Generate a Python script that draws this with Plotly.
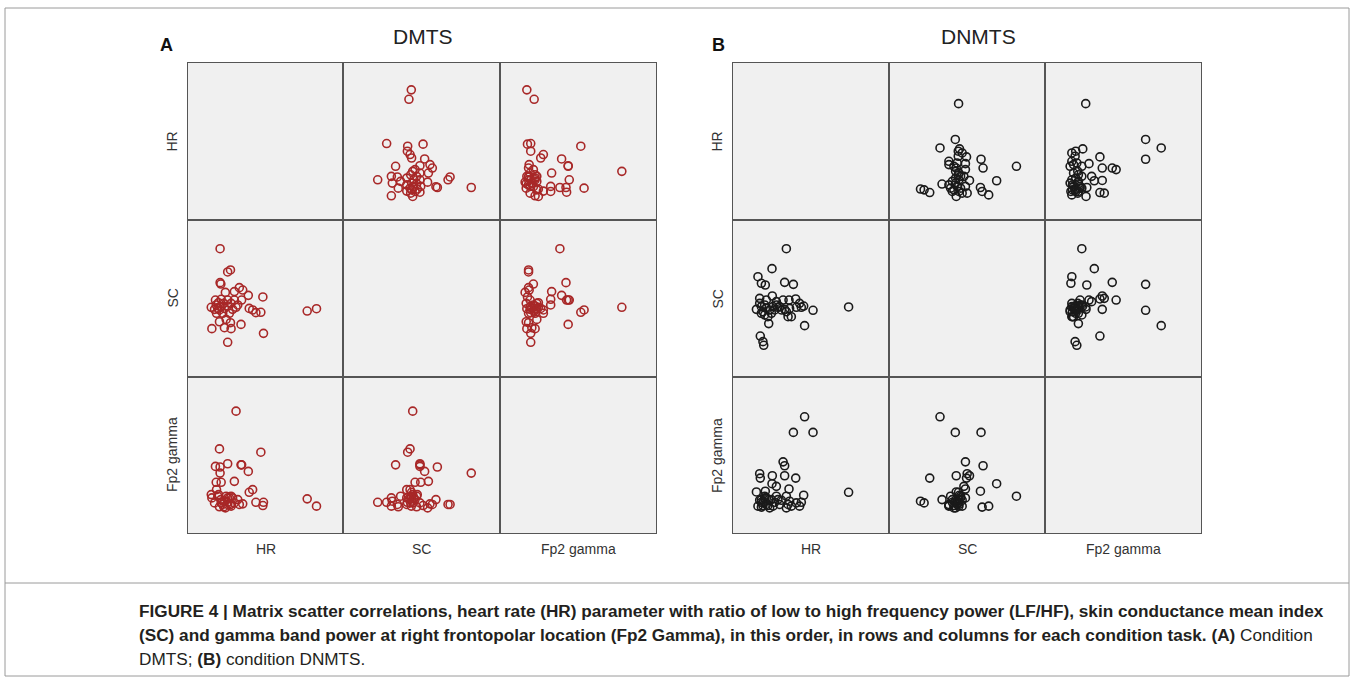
import plotly.graph_objects as go

# ---- data (relative units 0-100 per variable) ----
VARS = ["HR", "SC", "Fp2 gamma"]

DMTS_HR = [20.7, 25.6, 27.4, 20.7, 21.2, 24.1, 29.9, 33.1, 35.3, 38.9, 48.3, 17.7, 21.4, 25.6,
           29.9, 34.6, 15.0, 18.2, 19.2, 20.3, 21.4, 23.5, 25.6, 27.8, 31.0, 32.1, 18.4, 22.4,
           26.7, 39.5, 41.7, 43.8, 47.0, 76.9, 82.9, 20.3, 24.6, 27.4, 34.2, 15.4, 23.5, 27.8,
           48.7, 25.6, 17.1, 19.7, 23.1, 28.8]
DMTS_SC = [81.7, 66.9, 68.2, 60.1, 59.2, 53.9, 54.4, 56.9, 55.4, 52.0, 51.0, 49.0, 49.5, 49.0,
           49.0, 49.0, 44.4, 45.9, 43.7, 42.7, 44.8, 43.7, 45.2, 46.9, 44.4, 45.9, 40.6, 40.6,
           40.6, 43.7, 42.7, 41.0, 41.2, 42.0, 43.5, 35.2, 36.7, 34.6, 33.5, 30.8, 31.4, 30.8,
           27.8, 22.1, 43.1, 47.3, 46.9, 43.1]
DMTS_FP2 = [38.4, 18.3, 18.3, 42.3, 21.4, 16.1, 33.1, 18.3, 18.7, 39.5, 17.6, 42.7, 32.5, 44.4,
            19.3, 43.7, 24.6, 32.5, 23.6, 53.9, 19.3, 20.4, 22.5, 23.6, 78.1, 21.4, 27.8, 18.3,
            22.5, 26.1, 27.8, 19.7, 51.8, 21.9, 17.2, 16.8, 23.6, 18.3, 43.7, 22.5, 20.4, 17.2,
            19.7, 19.7, 19.3, 24.6, 16.8, 22.5]

DNMTS_HR = [34.2, 25.0, 16.0, 18.2, 20.7, 33.1, 38.7, 17.1, 21.4, 25.2, 27.8, 32.1, 35.9, 40.2,
            42.7, 45.3, 51.3, 74.1, 15.0, 18.2, 19.2, 20.3, 21.4, 23.5, 25.6, 27.8, 33.1, 36.3,
            35.3, 37.4, 22.9, 45.9, 17.5, 19.2, 19.7, 18.2, 22.4, 29.9, 40.6, 34.2, 20.3, 24.6,
            26.7, 17.1, 43.8, 28.8, 31.0]
DNMTS_SC = [81.7, 69.0, 63.9, 59.7, 58.6, 60.3, 59.0, 50.1, 49.0, 51.6, 48.0, 49.0, 49.0, 49.7,
            46.9, 45.2, 42.5, 44.6, 43.1, 44.8, 41.6, 39.5, 43.7, 42.7, 44.8, 45.9, 43.1, 43.7,
            38.4, 38.4, 34.0, 32.7, 26.1, 22.5, 20.2, 40.6, 38.4, 44.8, 44.4, 41.6, 45.9, 40.6,
            42.7, 46.9, 44.4, 44.4, 42.7]
DNMTS_FP2 = [23.6, 31.6, 17.2, 16.6, 26.8, 43.1, 64.5, 38.0, 22.5, 36.7, 29.9, 45.6, 28.2, 35.2,
             17.2, 24.2, 64.5, 26.1, 26.3, 21.4, 17.6, 23.6, 18.3, 16.1, 17.2, 23.6, 36.7, 20.4,
             18.3, 17.2, 21.4, 74.5, 35.2, 19.3, 20.4, 19.7, 17.6, 18.3, 19.3, 16.1, 22.5, 21.4,
             19.7, 21.0, 19.7, 21.4, 21.0]

PANELS = [
    {"letter": "A", "title": "DMTS", "data": [DMTS_HR, DMTS_SC, DMTS_FP2], "color": "#a82828",
     "xedges": [188, 343, 500, 656], "title_x": 423, "letter_x": 166},
    {"letter": "B", "title": "DNMTS", "data": [DNMTS_HR, DNMTS_SC, DNMTS_FP2], "color": "#1a1a1a",
     "xedges": [733, 889, 1045, 1201], "title_x": 978, "letter_x": 718},
]
YEDGES = [63, 220, 377, 533]

W, H = 1354, 681
FONT = "Arial, Liberation Sans, Helvetica, sans-serif"


def px(x):
    return x / W


def py(y):
    return 1 - y / H


fig = go.Figure()
layout = {}
annotations = []
ax = 0
for p in PANELS:
    xe = p["xedges"]
    for i in range(3):
        for j in range(3):
            ax += 1
            xn = "x" if ax == 1 else f"x{ax}"
            yn = "y" if ax == 1 else f"y{ax}"
            common = dict(range=[0, 100], showline=True, mirror=True, linecolor="#555555",
                          linewidth=1, showgrid=False, zeroline=False, showticklabels=False,
                          ticks="", fixedrange=True)
            layout["xaxis" if ax == 1 else f"xaxis{ax}"] = dict(
                domain=[px(xe[j]), px(xe[j + 1])], anchor=yn, **common)
            layout["yaxis" if ax == 1 else f"yaxis{ax}"] = dict(
                domain=[py(YEDGES[i + 1]), py(YEDGES[i])], anchor=xn, **common)
            if i == j:
                fig.add_trace(go.Scatter(x=[None], y=[None], xaxis=xn, yaxis=yn,
                                         mode="markers", showlegend=False, hoverinfo="skip"))
            else:
                fig.add_trace(go.Scatter(
                    x=p["data"][j], y=p["data"][i], xaxis=xn, yaxis=yn, mode="markers",
                    showlegend=False,
                    marker=dict(symbol="circle-open", size=8,
                                color=p["color"], line=dict(width=1.6, color=p["color"])),
                ))
    # titles
    annotations.append(dict(text=p["title"], x=px(p["title_x"]), y=py(37), xref="paper",
                            yref="paper", xanchor="center", yanchor="middle", showarrow=False,
                            font=dict(size=21, color="#222222", family=FONT)))
    annotations.append(dict(text="<b>" + p["letter"] + "</b>", x=px(p["letter_x"]), y=py(45),
                            xref="paper", yref="paper", xanchor="center", yanchor="middle",
                            showarrow=False, font=dict(size=18, color="#111111", family=FONT)))
    for k, v in enumerate(VARS):
        # column labels
        annotations.append(dict(text=v, x=px((xe[k] + xe[k + 1]) / 2), y=py(549),
                                xref="paper", yref="paper", xanchor="center", yanchor="middle",
                                showarrow=False, font=dict(size=14, color="#333333", family=FONT)))
        # row labels
        annotations.append(dict(text=v, x=px(xe[0] - 16), y=py((YEDGES[k] + YEDGES[k + 1]) / 2),
                                xref="paper", yref="paper", xanchor="center", yanchor="middle",
                                showarrow=False, textangle=-90,
                                font=dict(size=14, color="#333333", family=FONT)))

caption = [
    "<b>FIGURE 4 | Matrix scatter correlations, heart rate (HR) parameter with ratio of low to high frequency power (LF/HF), skin conductance mean index</b>",
    "<b>(SC) and gamma band power at right frontopolar location (Fp2 Gamma), in this order, in rows and columns for each condition task. (A)</b> Condition",
    "DMTS; <b>(B)</b> condition DNMTS.",
]
for k, line in enumerate(caption):
    annotations.append(dict(text=line, x=px(137), y=py(611 + 24 * k), xref="paper",
                            yref="paper", xanchor="left", yanchor="middle", showarrow=False,
                            font=dict(size=17.2, color="#231f20", family=FONT)))

shapes = [
    dict(type="rect", xref="paper", yref="paper", x0=px(5), x1=px(1349), y0=py(676),
         y1=py(8), line=dict(color="#9a9a9a", width=1)),
    dict(type="line", xref="paper", yref="paper", x0=px(5), x1=px(1349), y0=py(583),
         y1=py(583), line=dict(color="#9a9a9a", width=1)),
]

fig.update_layout(
    width=W, height=H, margin=dict(l=0, r=0, t=0, b=0),
    paper_bgcolor="white", plot_bgcolor="#f0f0f0",
    annotations=annotations, shapes=shapes, **layout,
)
fig.write_html("out.html", config={"displayModeBar": False})
